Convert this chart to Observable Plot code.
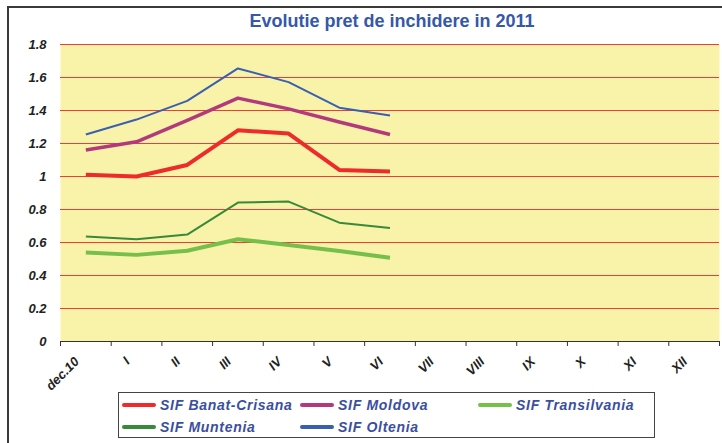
<!DOCTYPE html>
<html>
<head>
<meta charset="utf-8">
<script src="https://cdn.jsdelivr.net/npm/d3@7"></script>
<script src="https://cdn.jsdelivr.net/npm/@observablehq/plot@0.6"></script>
<style>
  html, body { margin: 0; padding: 0; background: #fff; }
  #wrap { position: relative; width: 722px; height: 443px; overflow: hidden; font-family: "Liberation Sans", Arial, sans-serif; }
  #frame { position: absolute; left: 7px; top: 6px; width: 800px; height: 500px; border-left: 2px solid #3a3a3a; border-top: 2px solid #3a3a3a; }
  #chart { position: absolute; left: 0; top: 0; }
  #title { position: absolute; left: 0; width: 784px; top: 11px; text-align: center; color: #3558a8; font-weight: bold; font-size: 18px; line-height: 21px; }
  #legend { position: absolute; left: 118px; top: 392px; width: 535px; height: 44px; border: 1.5px solid #444; background: #fff; }
  .item { position: absolute; height: 16px; display: flex; align-items: center; }
  .sw { display: inline-block; width: 34px; height: 4px; border-radius: 2px; margin-right: 4px; }
  .lab { color: #3a4fa0; font-weight: bold; font-style: italic; font-size: 14px; letter-spacing: 0.7px; white-space: nowrap; }
</style>
</head>
<body>
<div id="wrap">
  <div id="frame"></div>
  <div id="chart"></div>
  <div id="title">Evolutie pret de inchidere in 2011</div>
  <div id="legend"></div>
</div>
<script>
const months = ["dec.10", "I", "II", "III", "IV", "V", "VI", "VII", "VIII", "IX", "X", "XI", "XII"];
const yTicks = [0, 0.2, 0.4, 0.6, 0.8, 1, 1.2, 1.4, 1.6, 1.8];
const seriesNames = ["SIF Banat-Crisana", "SIF Moldova", "SIF Transilvania", "SIF Muntenia", "SIF Oltenia"];
const banat = [1.01, 1.00, 1.07, 1.28, 1.26, 1.04, 1.03];
const moldova = [1.16, 1.21, 1.34, 1.475, 1.41, 1.33, 1.255];
const transilvania = [0.54, 0.525, 0.55, 0.62, 0.585, 0.548, 0.508];
const muntenia = [0.637, 0.62, 0.648, 0.842, 0.848, 0.72, 0.688];
const oltenia = [1.255, 1.345, 1.458, 1.655, 1.572, 1.417, 1.37];
const colors = ["#ee2b2b", "#b23a7c", "#76bf4a", "#38893a", "#3a5fb2"];
const widths = [4, 3.5, 4, 2, 2];

const seriesValues = [banat, moldova, transilvania, muntenia, oltenia];
const bounds = d3.range(14).map(i => i - 0.5);
const idx = d3.range(months.length);

const lineMarks = seriesValues.map((vals, s) =>
  Plot.lineY(vals.map((v, i) => ({i, v})), {x: "i", y: "v", stroke: colors[s], strokeWidth: widths[s], strokeLinejoin: "round", strokeLinecap: "butt"})
);

const chart = Plot.plot({
  width: 722,
  height: 390,
  marginLeft: 60,
  marginRight: 3,
  marginTop: 44,
  marginBottom: 49,
  style: {fontFamily: "'Liberation Sans', Arial, sans-serif", fontSize: "13px", fontWeight: "bold", fontStyle: "italic", color: "#222", background: "transparent", overflow: "visible"},
  x: {type: "linear", domain: [-0.5, 12.5], axis: null},
  y: {domain: [0, 1.8], axis: null},
  marks: [
    Plot.frame({fill: "#f9f3a9", stroke: null}),
    Plot.ruleY(yTicks.filter(d => d > 0), {stroke: "#ef3b3b", strokeWidth: 1.2}),
    Plot.axisY(yTicks, {tickSize: 0, tickPadding: 14, tickFormat: d => String(d), label: null}),
    Plot.ruleY([0], {stroke: "#333", strokeWidth: 1.2}),
    Plot.axisX(bounds, {tickSize: 5, tickFormat: () => "", label: null, stroke: "#333"}),
    Plot.axisX(idx, {tickSize: 0, tickPadding: 18, tickRotate: -45, dx: -9, tickFormat: i => months[i], label: null}),
    ...lineMarks
  ]
});
document.getElementById("chart").appendChild(chart);

const legend = document.getElementById("legend");
const positions = [[3, 4], [181, 4], [359, 4], [3, 26], [181, 26]];
seriesNames.forEach((name, s) => {
  const it = document.createElement("div");
  it.className = "item";
  it.style.left = positions[s][0] + "px";
  it.style.top = positions[s][1] + "px";
  const sw = document.createElement("span");
  sw.className = "sw";
  sw.style.background = colors[s];
  const lab = document.createElement("span");
  lab.className = "lab";
  lab.textContent = name;
  it.appendChild(sw);
  it.appendChild(lab);
  legend.appendChild(it);
});
</script>
</body>
</html>
